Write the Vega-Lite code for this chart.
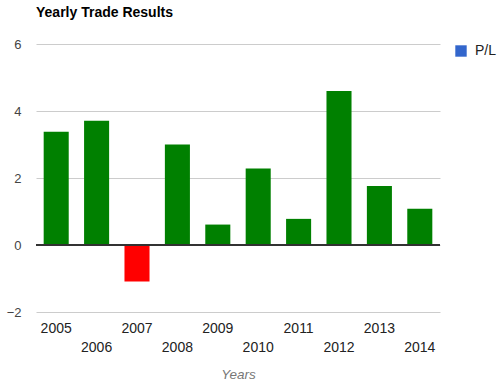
{
  "$schema": "https://vega.github.io/schema/vega-lite/v6.json",
  "autosize": "none",
  "width": 404,
  "height": 268,
  "padding": {"left": 36, "top": 44, "right": 63, "bottom": 70},
  "background": "white",
  "config": {
    "view": {"stroke": null},
    "font": "Liberation Sans"
  },
  "title": {
    "text": "Yearly Trade Results",
    "anchor": "start",
    "frame": "group",
    "fontSize": 14,
    "fontWeight": "bold",
    "color": "#000000",
    "font": "Liberation Sans",
    "offset": 18
  },
  "data": {
    "values": [
      {"year": "2005", "pl": 3.38},
      {"year": "2006", "pl": 3.71},
      {"year": "2007", "pl": -1.09},
      {"year": "2008", "pl": 3.0},
      {"year": "2009", "pl": 0.61},
      {"year": "2010", "pl": 2.28},
      {"year": "2011", "pl": 0.78},
      {"year": "2012", "pl": 4.6},
      {"year": "2013", "pl": 1.76},
      {"year": "2014", "pl": 1.08}
    ]
  },
  "encoding": {
    "x": {
      "field": "year",
      "type": "ordinal",
      "scale": {"paddingInner": 0.38, "paddingOuter": 0.19},
      "axis": {
        "title": "Years",
        "titleFontStyle": "italic",
        "titleFontWeight": "normal",
        "titleFontSize": 13.5,
        "titleColor": "#777777",
        "titlePadding": 13,
        "labelAngle": 0,
        "labelFontSize": 14,
        "labelColor": "#222222",
        "labelPadding": 9,
        "labelLineHeight": 19,
        "labelBaseline": "top",
        "labelExpr": "toNumber(datum.value) % 2 == 0 ? ['', datum.label] : datum.label",
        "domain": false,
        "ticks": false,
        "grid": false
      }
    },
    "y": {
      "field": "pl",
      "type": "quantitative",
      "scale": {"domain": [-2, 6], "nice": false, "zero": false},
      "axis": {
        "title": null,
        "values": [-2, 0, 2, 4, 6],
        "domain": false,
        "ticks": false,
        "grid": true,
        "gridColor": "#cccccc",
        "labelFontSize": 13,
        "labelColor": "#444444",
        "labelPadding": 15
      }
    }
  },
  "layer": [
    {
      "mark": {"type": "bar"},
      "encoding": {
        "fill": {
          "condition": {"test": "datum.pl < 0", "value": "#ff0000"},
          "value": "#008000"
        }
      }
    },
    {
      "mark": {"type": "square", "opacity": 0, "size": 1},
      "encoding": {
        "color": {
          "datum": "P/L",
          "type": "nominal",
          "scale": {"range": ["#3366cc"]},
          "legend": {
            "title": null,
            "orient": "none",
            "legendX": 418,
            "legendY": 0,
            "padding": 0,
            "symbolType": "square",
            "symbolSize": 130,
            "symbolOpacity": 1,
            "symbolFillColor": "#3366cc",
            "symbolStrokeWidth": 0,
            "labelFontSize": 14,
            "labelColor": "#222222",
            "labelOffset": 7
          }
        }
      }
    },
    {
      "mark": {"type": "rule", "color": "#333333", "strokeWidth": 1},
      "encoding": {"y": {"datum": 0}, "x": {"value": 0}, "x2": {"value": 404}}
    }
  ]
}
